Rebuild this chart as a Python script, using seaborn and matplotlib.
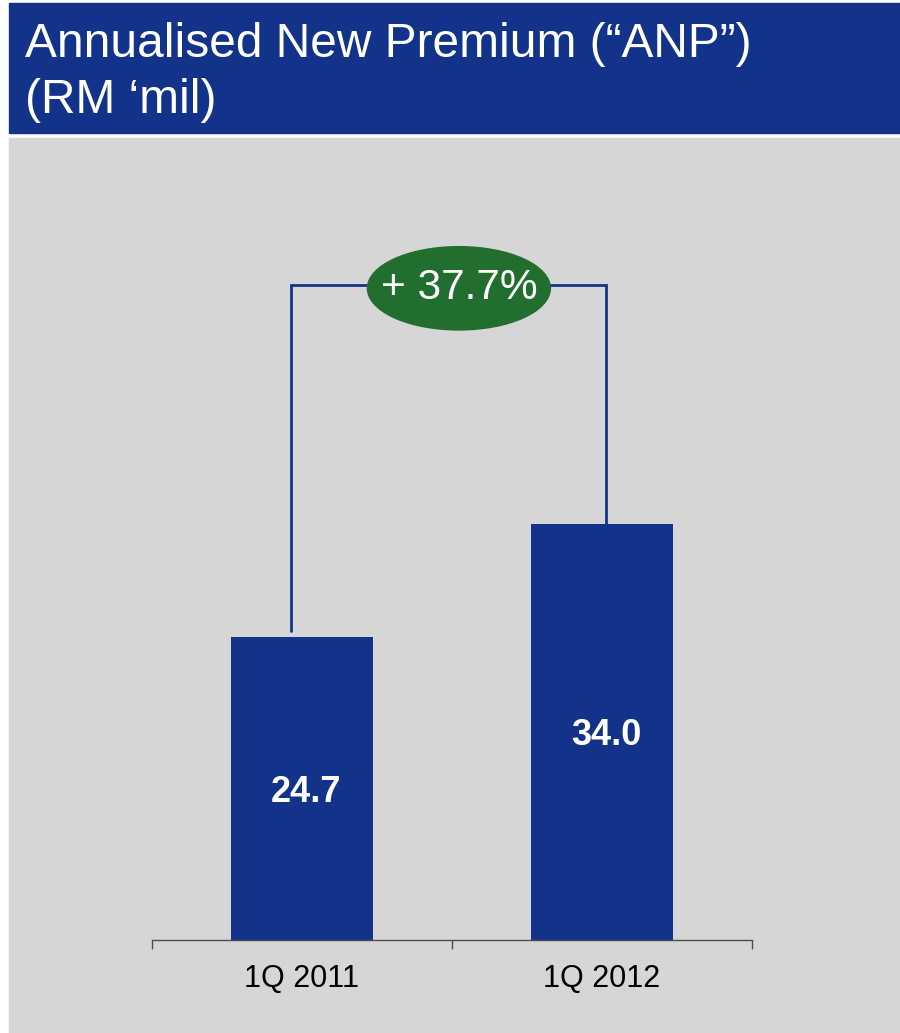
import matplotlib
matplotlib.use("Agg")
import matplotlib.pyplot as plt
from matplotlib.patches import Rectangle, Ellipse
import seaborn as sns
import pandas as pd

# Chart data
periods = ["1Q 2011", "1Q 2012"]
anp_values = [24.7, 34.0]
growth_label = "+ 37.7%"
title_lines = ["Annualised New Premium (\u201cANP\u201d)", "(RM \u2018mil)"]

NAVY = "#13338A"
GREEN = "#226E2E"
PANEL = "#D6D6D6"

sns.set_theme(style="white")
plt.rcParams["font.family"] = ["Liberation Sans", "DejaVu Sans"]

W, H = 900, 1033
fig = plt.figure(figsize=(W / 100, H / 100), dpi=100)
fig.patch.set_facecolor("white")

def fx(px):
    return px / W

def fy(py):
    return 1 - py / H

# Header band and grey panel
fig.patches.append(Rectangle((fx(9), fy(133)), fx(891), 130 / H,
                             transform=fig.transFigure, color=NAVY, zorder=-2))
fig.patches.append(Rectangle((fx(9), 0), fx(891), fy(138),
                             transform=fig.transFigure, color=PANEL, zorder=-2))

fig.text(fx(25), fy(57), title_lines[0], color="white", fontsize=34.5,
         va="baseline", ha="left")
fig.text(fx(25), fy(113), title_lines[1], color="white", fontsize=34.5,
         va="baseline", ha="left")

# Plot area: baseline at y=940 px, categories span x 152..752 px
px_per_unit = 12.25
ax_top, ax_bot = 140, 940
ax = fig.add_axes([fx(152), fy(ax_bot), fx(600), (ax_bot - ax_top) / H])
ax.set_zorder(5)
ax.set_facecolor("none")

df = pd.DataFrame({"period": periods, "anp": anp_values})
sns.barplot(data=df, x="period", y="anp", color=NAVY, saturation=1,
            width=0.473, linewidth=0, ax=ax, zorder=2)

ax.set_xlim(-0.5, 1.5)
ax.set_ylim(0, (ax_bot - ax_top) / px_per_unit)

for i, v in enumerate(anp_values):
    ax.text(i + 0.015, v / 2, f"{v:.1f}", color="white", fontsize=26,
            fontweight="bold", ha="center", va="center_baseline", zorder=3)

# Growth bracket joining the two bars
bracket_y = 53.5
left_x, right_x = -0.037, 1.013
ax.plot([left_x, left_x, right_x, right_x],
        [anp_values[0] + 0.5, bracket_y, bracket_y, anp_values[1]],
        color=NAVY, lw=2, solid_joinstyle="miter", zorder=1, clip_on=False)
ax.add_patch(Ellipse((0.523, 53.2), 0.61, 6.8, color=GREEN, zorder=4,
                     clip_on=False))
ax.text(0.523, 53.2, growth_label, color="white", fontsize=30.5,
        ha="center", va="center", zorder=5)

# Axis styling: only the baseline with category boundary ticks
for side in ["left", "right", "top"]:
    ax.spines[side].set_visible(False)
ax.spines["bottom"].set_color("#4d4d4d")
ax.spines["bottom"].set_linewidth(1)
ax.set_yticks([])
ax.set_xlabel("")
ax.set_ylabel("")
ax.set_xticks([-0.5, 0.5, 1.5], minor=True)
ax.tick_params(axis="x", which="minor", length=6.5, width=1, color="#4d4d4d",
               direction="out", bottom=True)
ax.tick_params(axis="x", which="major", length=0, pad=17, labelsize=22,
               labelcolor="black")

fig.savefig("out.png", dpi=100)
